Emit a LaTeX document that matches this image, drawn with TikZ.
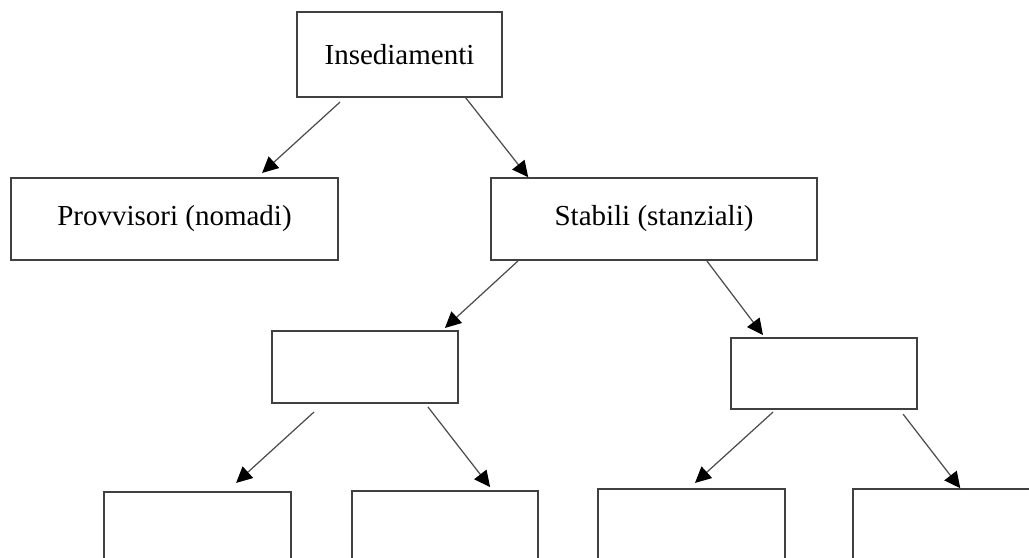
\documentclass[tikz,border=0pt]{standalone}
\usepackage{fontspec}
\setmainfont{Liberation Serif}
\usetikzlibrary{arrows.meta,positioning,calc}

\begin{document}
\begin{tikzpicture}[x=0.02cm, y=-0.02cm,
		box/.style={draw=black!75, line width=0.7pt, inner sep=0pt, outer sep=0pt, font={\fontsize{16.5}{20}\selectfont}},
		arr/.style={draw=black!70, line width=0.7pt, -{Triangle[length=0.32cm, width=0.31cm, color=black]}}]
	\useasboundingbox (0,0) rectangle (1029,558);

	% top levels
	\node[box, minimum width=4.1cm, minimum height=1.7cm] (ins) at (399.5,54.5) {Insediamenti};
	\node[box, minimum width=6.54cm, minimum height=1.64cm] (prov) at (174.5,219) {Provvisori (nomadi)};
	\node[box, minimum width=6.52cm, minimum height=1.64cm] (stab) at (654,219) {Stabili (stanziali)};

	% empty boxes
	\node[box, minimum width=3.72cm, minimum height=1.44cm] (stabL) at (365,367) {};
	\node[box, minimum width=3.72cm, minimum height=1.42cm] (stabR) at (824,373.5) {};
	\node[box, minimum width=3.74cm, minimum height=2cm] (leafA) at (197.5,542) {};
	\node[box, minimum width=3.72cm, minimum height=2cm] (leafB) at (445,541) {};
	\node[box, minimum width=3.74cm, minimum height=2cm] (leafC) at (691.5,539) {};
	\node[box, minimum width=3.72cm, minimum height=2cm] (leafD) at (946,539) {};

	% arrows
	\draw[arr, shorten <=0.15cm, shorten >=0.15cm] ($(ins.south west)!0.237!(ins.south east)$) -- ($(prov.north west)!0.751!(prov.north east)$);
	\draw[arr, shorten >=0.02cm] ($(ins.south west)!0.82!(ins.south east)$) -- ($(stab.north west)!0.116!(stab.north east)$);
	\draw[arr, shorten <=0.03cm, shorten >=0.09cm] ($(stab.south west)!0.086!(stab.south east)$) -- ($(stabL.north west)!0.912!(stabL.north east)$);
	\draw[arr, shorten <=0.025cm, shorten >=0.075cm] ($(stab.south west)!0.66!(stab.south east)$) -- ($(stabR.north west)!0.184!(stabR.north east)$);
	\draw[arr, shorten <=0.27cm, shorten >=0.27cm] ($(stabL.south west)!0.279!(stabL.south east)$) -- ($(leafA.north west)!0.653!(leafA.north east)$);
	\draw[arr, shorten <=0.1cm, shorten >=0.1cm] ($(stabL.south west)!0.822!(stabL.south east)$) -- ($(leafB.north west)!0.759!(leafB.north east)$);
	\draw[arr, shorten <=0.09cm, shorten >=0.18cm] ($(stabR.south west)!0.244!(stabR.south east)$) -- ($(leafC.north west)!0.483!(leafC.north east)$);
	\draw[arr, shorten <=0.13cm, shorten >=0.02cm] ($(stabR.south west)!0.904!(stabR.south east)$) -- ($(leafD.north west)!0.58!(leafD.north east)$);
\end{tikzpicture}
\end{document}
